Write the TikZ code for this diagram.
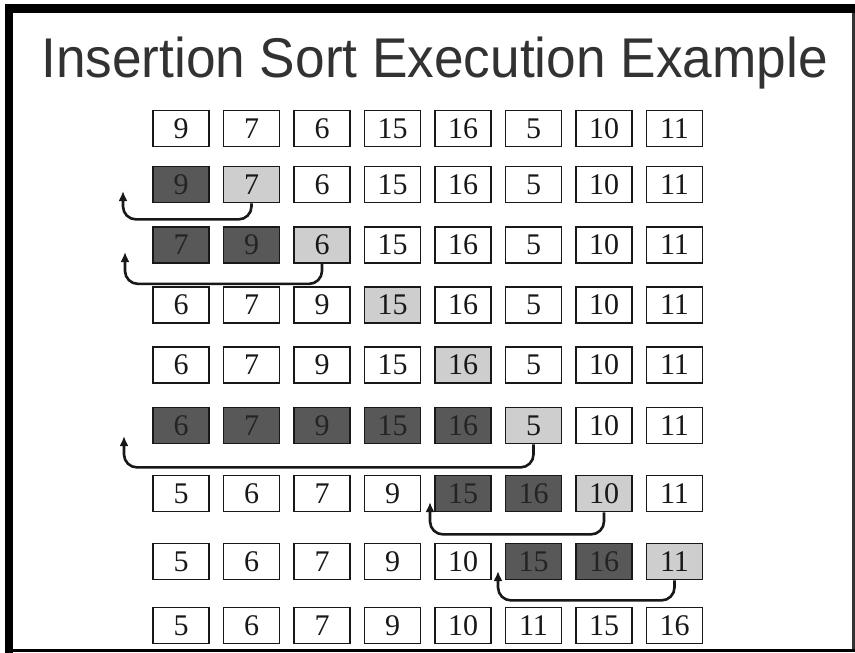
\documentclass[tikz,border=0pt]{standalone}
\usepackage{fontspec}
\setmainfont{Liberation Serif}
\newfontfamily\titlefont{Liberation Sans}
\usepackage{xcolor}
\usetikzlibrary{arrows.meta}
\definecolor{ink}{RGB}{24,24,24}
\definecolor{heading}{RGB}{50,50,50}
\definecolor{shade}{RGB}{88,88,88}
\definecolor{shadetext}{RGB}{36,36,36}
\definecolor{pick}{RGB}{206,206,206}

\begin{document}
\begin{tikzpicture}[
  x=1pt, y=-1pt,
  cell/.style={draw=ink, fill=white, line width=1.8pt, inner sep=0pt,
               minimum width=56pt, minimum height=36pt, text=ink,
               font=\fontsize{30}{34}\selectfont},
  shf/.style={cell, fill=shade, text=shadetext},
  cur/.style={cell, fill=pick},
  back/.style={-{Latex[length=10pt, width=9pt]}, draw=ink, line width=2.6pt,
               rounded corners=13pt},
  ttl/.style={font=\titlefont\fontsize{56}{60}\selectfont, text=heading,
              inner sep=0pt, anchor=base}]

  \useasboundingbox (0,0) rectangle (855,653);
  \fill[white] (0,0) rectangle (855,653);

  % frame
  \fill[black] (5,4) rectangle (855,13);
  \fill[black] (5,4) rectangle (13,653);
  \fill[black] (13,649) rectangle (855,652);
  \fill[black!80] (852,13) rectangle (855,649);

  \node[ttl] (title) at (434.5,77) {\scalebox{0.95}[1]{Insertion Sort Execution Example}};

  % rows of the array, one per pass
  \foreach \r/\y/\vals in {
      1/128.5/{cell/9,cell/7,cell/6,cell/15,cell/16,cell/5,cell/10,cell/11},
      2/184.5/{shf/9,cur/7,cell/6,cell/15,cell/16,cell/5,cell/10,cell/11},
      3/245/{shf/7,shf/9,cur/6,cell/15,cell/16,cell/5,cell/10,cell/11},
      4/305/{cell/6,cell/7,cell/9,cur/15,cell/16,cell/5,cell/10,cell/11},
      5/365/{cell/6,cell/7,cell/9,cell/15,cur/16,cell/5,cell/10,cell/11},
      6/425.5/{shf/6,shf/7,shf/9,shf/15,shf/16,cur/5,cell/10,cell/11},
      7/493.5/{cell/5,cell/6,cell/7,cell/9,shf/15,shf/16,cur/10,cell/11},
      8/561.5/{cell/5,cell/6,cell/7,cell/9,cell/10,shf/15,shf/16,cur/11},
      9/625.5/{cell/5,cell/6,cell/7,cell/9,cell/10,cell/11,cell/15,cell/16}}
    \foreach \s/\v [count=\c] in \vals
      \node[\s] (b\r\c) at ({110.5+70.5*\c},\y) {\v};

  % insertion moves
  \coordinate (t2) at (123,191);
  \coordinate (t3) at (125,252);
  \coordinate (t6) at (124,436);
  \coordinate (t7) at (430,502);
  \coordinate (t8) at (498,571);

  \draw[back] (b22.south) -- ++(0,16) -| (t2);
  \draw[back] (b33.south) -- ++(0,20) -| (t3);
  \draw[back] (b66.south) -- ++(0,23) -| (t6);
  \draw[back] (b77.south) -- ++(0,22) -| (t7);
  \draw[back] (b88.south) -- ++(0,20) -| (t8);
\end{tikzpicture}
\end{document}
